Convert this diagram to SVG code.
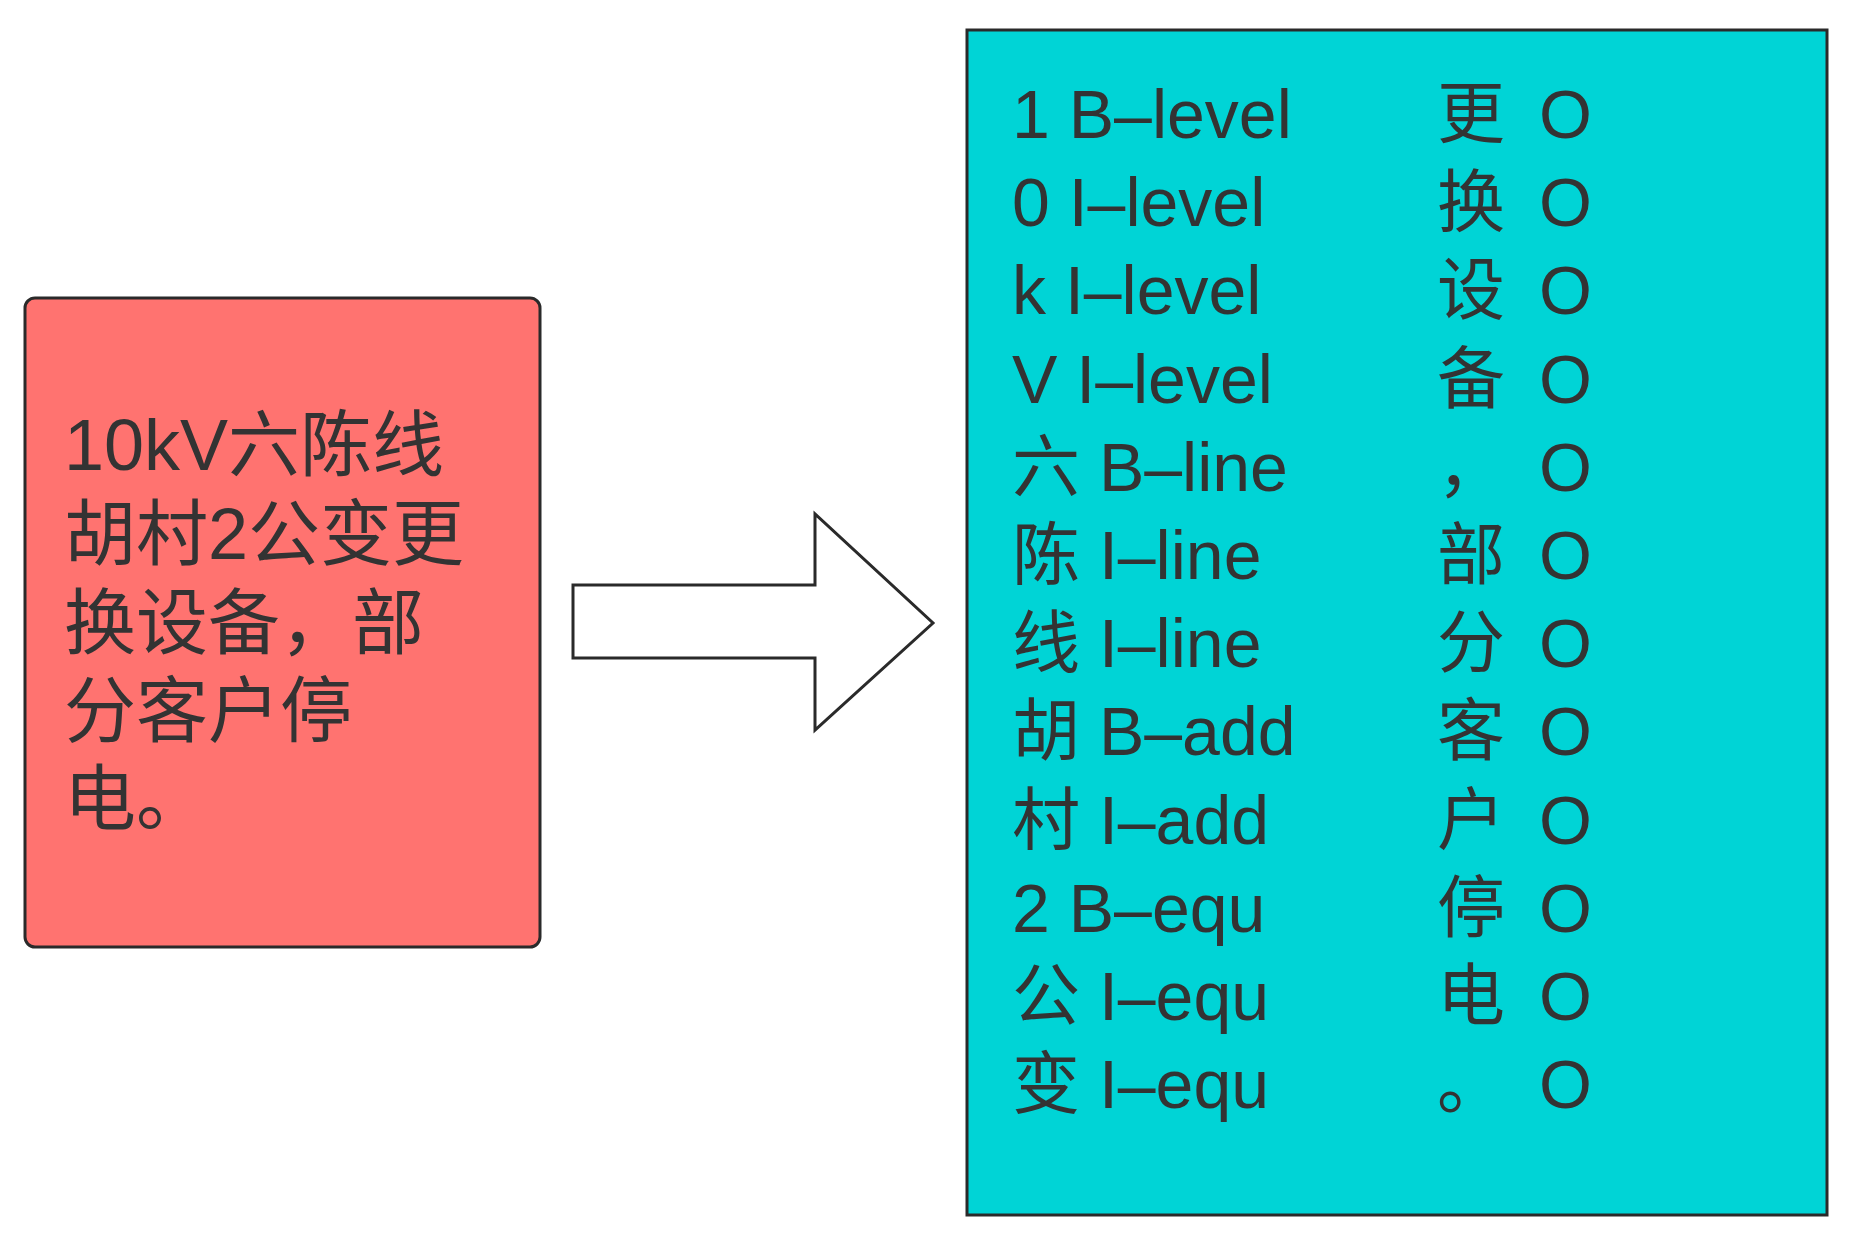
<svg xmlns="http://www.w3.org/2000/svg" width="1852" height="1241" viewBox="0 0 1852 1241">
<style>
text{font-family:"Liberation Sans","Noto Sans CJK SC",sans-serif;fill:#333;}
.r{font-size:72px}
.c{font-size:68px}
</style>
<rect width="1852" height="1241" fill="#fff"/>
<g id="source">
<rect x="25" y="298" width="515" height="649" rx="10" fill="#ff7370" stroke="#2a2a2a" stroke-width="3"/>
<text class="r" x="64" y="470">10kV六陈线</text>
<text class="r" x="64" y="559">胡村2公变更</text>
<text class="r" x="64" y="648">换设备，部</text>
<text class="r" x="64" y="736">分客户停</text>
<text class="r" x="64" y="824">电。</text>
</g>
<g id="connectors">
<polygon points="573,585 815,585 815,514 933,623 815,730 815,658 573,658" fill="#fff" stroke="#2a2a2a" stroke-width="3"/>
</g>
<g id="target">
<rect x="967" y="30" width="860" height="1185" fill="#00d4d6" stroke="#2a2a2a" stroke-width="3"/>
<text class="c" x="1012" y="138">1 B–level</text>
<text class="c" x="1012" y="226">0 I–level</text>
<text class="c" x="1012" y="314">k I–level</text>
<text class="c" x="1012" y="403">V I–level</text>
<text class="c" x="1012" y="491">六 B–line</text>
<text class="c" x="1012" y="579">陈 I–line</text>
<text class="c" x="1012" y="667">线 I–line</text>
<text class="c" x="1012" y="755">胡 B–add</text>
<text class="c" x="1012" y="844">村 I–add</text>
<text class="c" x="1012" y="932">2 B–equ</text>
<text class="c" x="1012" y="1020">公 I–equ</text>
<text class="c" x="1012" y="1108">变 I–equ</text>
<text class="c" x="1437" y="138">更</text><text class="c" x="1437" y="226">换</text><text class="c" x="1437" y="314">设</text><text class="c" x="1437" y="403">备</text><text class="c" x="1437" y="491">，</text><text class="c" x="1437" y="579">部</text><text class="c" x="1437" y="667">分</text><text class="c" x="1437" y="755">客</text><text class="c" x="1437" y="844">户</text><text class="c" x="1437" y="932">停</text><text class="c" x="1437" y="1020">电</text><text class="c" x="1437" y="1108">。</text>
<text class="c" x="1539" y="138">O</text><text class="c" x="1539" y="226">O</text><text class="c" x="1539" y="314">O</text><text class="c" x="1539" y="403">O</text><text class="c" x="1539" y="491">O</text><text class="c" x="1539" y="579">O</text><text class="c" x="1539" y="667">O</text><text class="c" x="1539" y="755">O</text><text class="c" x="1539" y="844">O</text><text class="c" x="1539" y="932">O</text><text class="c" x="1539" y="1020">O</text><text class="c" x="1539" y="1108">O</text>
</g>
</svg>
